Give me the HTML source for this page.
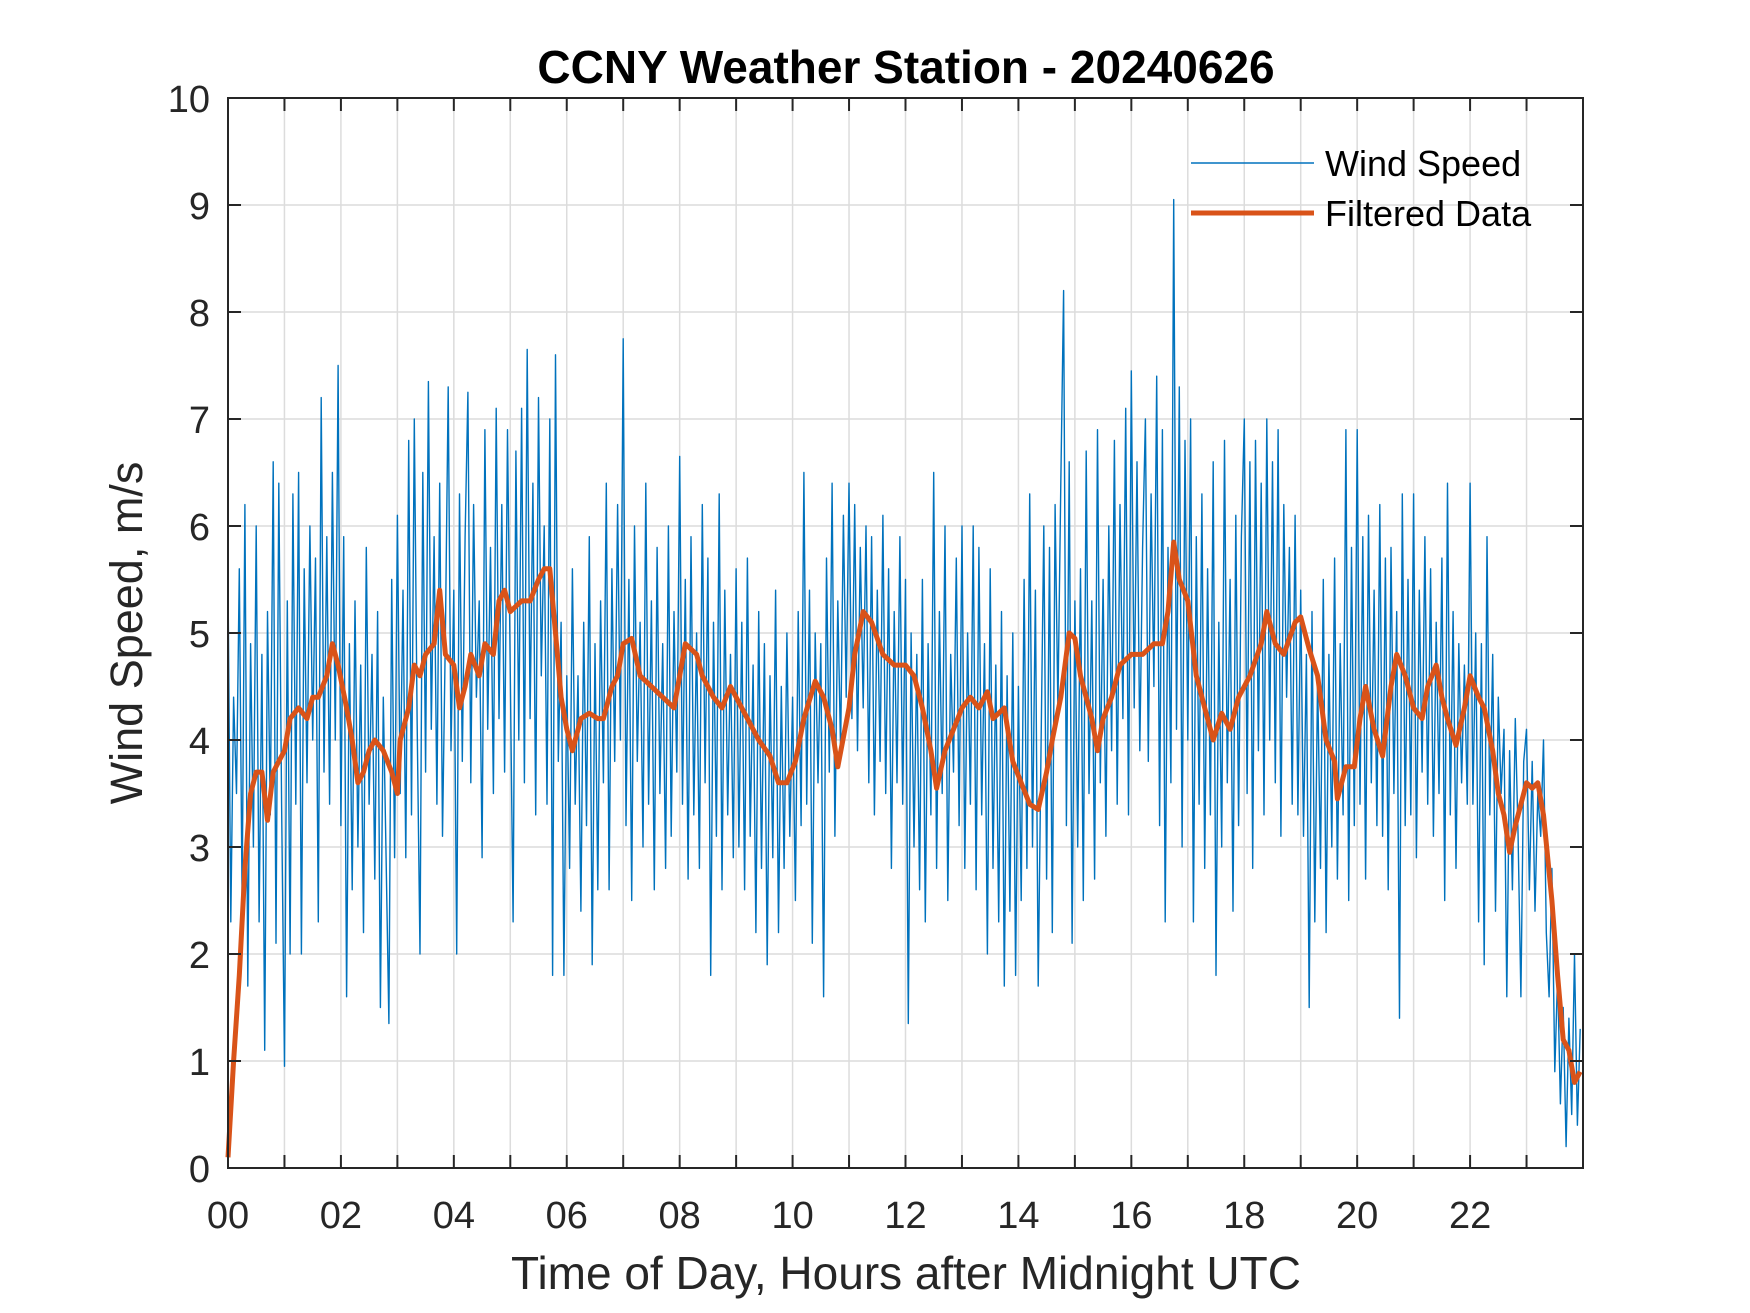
<!DOCTYPE html>
<html><head><meta charset="utf-8"><style>
html,body{margin:0;padding:0;background:#fff;}
svg{display:block;font-family:"Liberation Sans",Arial,sans-serif;}
</style></head><body>
<svg id="chart" width="1750" height="1313" viewBox="0 0 1750 1313">
<rect width="1750" height="1313" fill="#fff"/>
<g id="grid"></g>
<g id="plot"></g>
<rect x="228" y="98" width="1355" height="1070" fill="none" stroke="#262626" stroke-width="2"/>
<g id="ticks"></g>
<text x="906" y="83" text-anchor="middle" font-size="46" font-weight="bold" fill="#000">CCNY Weather Station - 20240626</text>
<text x="906" y="1289" text-anchor="middle" font-size="46" fill="#262626">Time of Day, Hours after Midnight UTC</text>
<text transform="translate(142,633) rotate(-90)" text-anchor="middle" font-size="45" fill="#262626">Wind Speed, m/s</text>
<g>
<line x1="1191" y1="163" x2="1314" y2="163" stroke="#0072BD" stroke-width="1.5"/>
<text x="1325" y="176" font-size="36" fill="#000">Wind Speed</text>
<line x1="1191" y1="213" x2="1314" y2="213" stroke="#D95319" stroke-width="5"/>
<text x="1325" y="226" font-size="36" fill="#000">Filtered Data</text>
</g>
</svg>
<script>
const xTickLabels=["00","02","04","06","08","10","12","14","16","18","20","22"];
const yTickLabels=[0,1,2,3,4,5,6,7,8,9,10];
const rawPerHour=20;
const rawValues=[
5.5,2.3,4.4,3.5,5.6,2.5,6.2,1.7,4.9,3.0,6.0,2.3,4.8,1.1,5.2,3.3,6.6,2.1,6.4,3.4,
0.95,5.3,2.0,6.3,3.4,6.5,2.0,5.6,3.6,6.0,4.0,5.7,2.3,7.2,3.7,5.9,3.4,6.5,4.0,7.5,
3.2,5.9,1.6,4.9,2.6,5.3,3.0,4.7,2.2,5.8,3.4,4.8,2.7,5.2,1.5,4.4,2.9,1.35,5.5,2.9,
6.1,3.5,5.4,2.9,6.8,3.3,7.0,4.2,2.0,6.5,3.7,7.35,4.1,5.9,3.4,6.4,3.1,5.0,7.3,3.9,
5.4,2.0,6.3,3.8,5.9,7.25,3.6,6.2,4.4,5.3,2.9,6.9,4.1,5.8,3.5,7.1,4.2,6.2,3.7,6.9,
4.6,2.3,6.7,4.0,7.1,3.6,7.65,4.2,6.4,3.3,7.2,4.6,6.0,3.4,7.0,1.8,7.6,3.8,5.1,1.8,
4.6,2.8,5.6,3.4,4.6,2.4,5.1,3.2,5.9,1.9,4.9,2.6,5.3,3.6,6.4,2.6,5.6,3.8,6.2,4.0,
7.75,3.2,5.5,2.5,6.0,3.8,5.1,3.0,6.4,3.4,5.3,2.6,5.8,3.5,4.9,2.8,6.0,3.1,5.2,3.7,
6.65,3.4,5.5,2.7,5.9,3.3,5.0,2.8,6.2,3.6,5.7,1.8,5.1,3.1,6.3,2.6,5.4,3.3,4.8,2.9,
5.6,3.0,5.1,2.6,5.7,3.1,4.7,2.2,5.2,2.8,4.9,1.9,4.6,2.9,5.4,2.2,4.5,2.8,5.0,3.1,
4.4,2.5,5.2,3.2,6.5,3.4,5.4,2.1,5.0,3.6,4.9,1.6,5.7,3.7,6.4,3.1,5.3,3.9,6.1,4.4,
6.4,4.2,6.2,3.9,5.8,4.3,6.0,3.6,5.9,3.3,5.4,3.8,6.1,3.5,5.6,2.8,5.2,3.6,5.9,3.4,
5.5,1.35,5.0,3.0,4.8,2.6,5.5,2.3,4.9,3.3,6.5,2.8,5.2,3.5,6.0,2.5,4.8,3.7,5.7,3.2,
6.0,2.8,5.0,3.4,6.0,2.6,5.8,3.3,4.9,2.0,5.6,2.8,4.7,2.3,5.2,1.7,4.6,2.4,5.0,1.8,
4.5,2.5,5.5,2.8,6.3,3.0,5.4,1.7,3.9,6.0,2.7,5.8,2.2,6.2,4.3,6.4,8.2,3.2,6.6,2.1,
5.3,3.0,5.6,2.5,6.7,3.5,5.3,2.7,6.9,3.6,5.5,3.1,6.0,3.9,6.8,3.4,6.2,4.2,7.1,3.3,
7.45,4.3,6.6,3.9,5.8,7.0,3.8,6.3,4.5,7.4,3.2,6.9,2.3,5.8,3.6,9.05,4.1,7.3,3.0,6.8,
4.0,7.0,2.3,5.9,3.4,6.3,2.8,5.6,3.3,6.6,1.8,5.1,3.0,6.8,3.6,5.5,2.4,6.1,3.2,5.9,
7.0,3.5,6.6,2.8,6.8,3.9,6.4,3.3,7.0,4.0,6.6,3.6,6.9,3.1,6.2,4.4,5.8,3.4,6.1,3.3,
5.4,3.1,4.8,1.5,5.2,2.3,4.6,2.8,5.5,2.2,4.8,3.0,5.7,2.7,4.9,3.3,6.9,2.5,5.8,3.2,
6.9,3.4,5.9,2.7,6.1,3.6,5.4,3.2,6.2,3.1,5.7,2.6,5.8,3.5,5.2,1.4,6.3,3.2,5.5,3.3,
6.3,2.9,5.4,3.7,5.9,3.4,5.6,3.1,5.1,3.5,5.7,2.5,6.4,3.3,5.2,2.8,4.9,3.6,4.7,3.4,
6.4,3.4,5.0,2.3,4.9,1.9,5.9,3.3,4.8,2.4,4.4,3.5,4.1,1.6,3.9,2.6,4.2,3.1,1.6,3.8,
4.1,2.6,3.8,2.4,3.5,3.1,4.0,2.2,1.6,2.8,0.9,1.8,0.6,1.5,0.2,1.4,0.5,2.0,0.4,1.3
];
const filtHours=[0,0.1,0.2,0.3,0.4,0.5,0.6,0.7,0.8,0.9,1.0,1.1,1.25,1.4,1.5,1.6,1.75,1.85,1.95,2.1,2.2,2.3,2.4,2.5,2.6,2.75,2.9,3.0,3.05,3.2,3.3,3.4,3.5,3.65,3.75,3.85,4.0,4.1,4.2,4.3,4.45,4.55,4.7,4.8,4.9,5.0,5.2,5.35,5.5,5.6,5.7,5.8,5.9,6.0,6.1,6.25,6.4,6.55,6.65,6.8,6.9,7.0,7.15,7.3,7.5,7.7,7.9,8.0,8.1,8.3,8.4,8.6,8.75,8.9,9.0,9.2,9.4,9.6,9.75,9.9,10.05,10.2,10.4,10.55,10.7,10.8,11.0,11.1,11.25,11.4,11.6,11.8,12.0,12.15,12.3,12.45,12.55,12.7,12.85,13.0,13.15,13.3,13.45,13.55,13.75,13.9,14.05,14.2,14.35,14.5,14.6,14.75,14.9,15.0,15.1,15.3,15.4,15.5,15.65,15.8,16.0,16.2,16.4,16.55,16.65,16.75,16.85,17.0,17.15,17.3,17.45,17.6,17.75,17.9,18.1,18.3,18.4,18.55,18.7,18.9,19.0,19.15,19.3,19.45,19.6,19.65,19.8,19.95,20.05,20.15,20.3,20.45,20.6,20.7,20.85,21.0,21.15,21.25,21.4,21.5,21.6,21.75,21.9,22.0,22.15,22.25,22.4,22.5,22.6,22.7,22.8,22.9,23.0,23.1,23.2,23.3,23.45,23.55,23.65,23.75,23.85,23.95];
const filtValues=[0.1,1.0,1.8,2.8,3.5,3.7,3.7,3.25,3.7,3.8,3.9,4.2,4.3,4.2,4.4,4.4,4.6,4.9,4.7,4.3,4.0,3.6,3.7,3.9,4.0,3.9,3.7,3.5,4.0,4.3,4.7,4.6,4.8,4.9,5.4,4.8,4.7,4.3,4.5,4.8,4.6,4.9,4.8,5.3,5.4,5.2,5.3,5.3,5.5,5.6,5.6,5.0,4.4,4.1,3.9,4.2,4.25,4.2,4.2,4.5,4.6,4.9,4.95,4.6,4.5,4.4,4.3,4.6,4.9,4.8,4.6,4.4,4.3,4.5,4.4,4.2,4.0,3.85,3.6,3.6,3.8,4.2,4.55,4.4,4.1,3.75,4.3,4.8,5.2,5.1,4.8,4.7,4.7,4.6,4.3,3.9,3.55,3.9,4.1,4.3,4.4,4.3,4.45,4.2,4.3,3.8,3.6,3.4,3.35,3.7,4.0,4.4,5.0,4.95,4.6,4.2,3.9,4.2,4.4,4.7,4.8,4.8,4.9,4.9,5.2,5.85,5.5,5.3,4.6,4.3,4.0,4.25,4.1,4.4,4.6,4.9,5.2,4.9,4.8,5.1,5.15,4.85,4.6,4.0,3.8,3.45,3.75,3.75,4.2,4.5,4.1,3.85,4.5,4.8,4.6,4.3,4.2,4.5,4.7,4.4,4.2,3.95,4.3,4.6,4.4,4.3,3.9,3.5,3.3,2.95,3.2,3.4,3.6,3.55,3.6,3.3,2.5,1.8,1.2,1.1,0.8,0.9];

const NS='http://www.w3.org/2000/svg';
const X0=228,X1=1583,Y0=1168,Y1=98;
const xScale=h=>X0+(h/24)*(X1-X0);
const yScale=v=>Y0-(v/10)*(Y0-Y1);
function mk(tag,attrs,parent){const e=document.createElementNS(NS,tag);for(const k in attrs)e.setAttribute(k,attrs[k]);parent.appendChild(e);return e;}
const grid=document.getElementById('grid'),ticks=document.getElementById('ticks'),plot=document.getElementById('plot');
for(let h=1;h<24;h++){
  const x=xScale(h);
  const gl=mk('line',{x1:x,y1:Y1,x2:x,y2:Y0,stroke:'#dcdcdc','stroke-width':1.5},grid);
  
  
  const t1=mk('line',{x1:x,y1:Y0,x2:x,y2:Y0-13,stroke:'#262626','stroke-width':2},ticks);
  
  
  const t2=mk('line',{x1:x,y1:Y1,x2:x,y2:Y1+13,stroke:'#262626','stroke-width':2},ticks);
  
  
}
xTickLabels.forEach((lab,i)=>{
  const t=mk('text',{x:xScale(i*2),y:1228,'text-anchor':'middle','font-size':38,fill:'#262626'},ticks);
  t.textContent=lab;
  
  
});
yTickLabels.forEach(v=>{
  const y=yScale(v);
  if(v>0&&v<10){
    const gl=mk('line',{x1:X0,y1:y,x2:X1,y2:y,stroke:'#dcdcdc','stroke-width':1.5},grid);
    
    
    const t1=mk('line',{x1:X0,y1:y,x2:X0+13,y2:y,stroke:'#262626','stroke-width':2},ticks);
    
    
    const t2=mk('line',{x1:X1,y1:y,x2:X1-13,y2:y,stroke:'#262626','stroke-width':2},ticks);
    
    
  }
  const t=mk('text',{x:210,y:y+14,'text-anchor':'end','font-size':38,fill:'#262626'},ticks);
  t.textContent=v;
  
  
});
let d='';
rawValues.forEach((v,i)=>{d+=(i?'L':'M')+xScale(i/rawPerHour).toFixed(1)+' '+yScale(v).toFixed(1);});
const raw=mk('path',{d:d,fill:'none',stroke:'#0072BD','stroke-width':1.4,'stroke-linejoin':'round'},plot);


let d2='';
filtValues.forEach((v,i)=>{d2+=(i?'L':'M')+xScale(filtHours[i]).toFixed(1)+' '+yScale(v).toFixed(1);});
const f=mk('path',{d:d2,fill:'none',stroke:'#D95319','stroke-width':5,'stroke-linejoin':'round'},plot);


</script>
</body></html>
